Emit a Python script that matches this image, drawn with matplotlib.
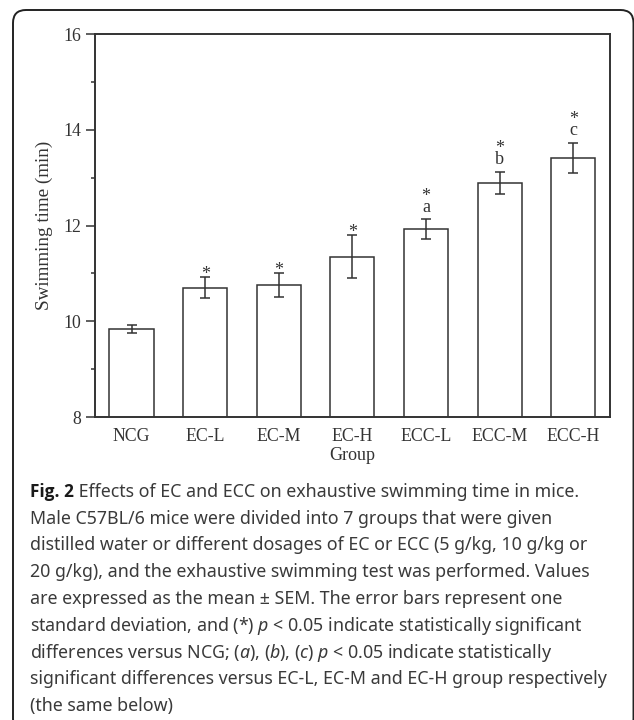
import numpy as np
import matplotlib
matplotlib.use('Agg')
import matplotlib.pyplot as plt
from matplotlib.patches import FancyBboxPatch
from matplotlib.transforms import IdentityTransform
from matplotlib.ticker import MultipleLocator

groups = ['NCG', 'EC-L', 'EC-M', 'EC-H', 'ECC-L', 'ECC-M', 'ECC-H']
means = [9.84, 10.70, 10.76, 11.35, 11.93, 12.90, 13.41]
errs = [0.08, 0.22, 0.25, 0.45, 0.20, 0.23, 0.32]
stars = [False, True, True, True, True, True, True]
letters = ['', '', '', '', 'a', 'b', 'c']

fig_label = 'Fig. 2'
caption = [
    ' Effects of EC and ECC on exhaustive swimming time in mice.',
    'Male C57BL/6 mice were divided into 7 groups that were given',
    'distilled water or different dosages of EC or ECC (5 g/kg, 10 g/kg or',
    '20 g/kg), and the exhaustive swimming test was performed. Values',
    'are expressed as the mean ± SEM. The error bars represent one',
    r'standard deviation, and (*) $p$ < 0.05 indicate statistically significant',
    r'differences versus NCG; ($a$), ($b$), ($c$) $p$ < 0.05 indicate statistically',
    'significant differences versus EC-L, EC-M and EC-H group respectively',
    '(the same below)',
]

plt.rcParams['mathtext.fontset'] = 'custom'
plt.rcParams['mathtext.rm'] = 'Noto Sans'
plt.rcParams['mathtext.it'] = 'Noto Sans:italic'

dark = '#333333'
serif = 'Liberation Serif'
capsize = 12.8

fig = plt.figure(figsize=(6.34, 7.2), dpi=100)

# rounded frame around figure + caption
frame = FancyBboxPatch((13, -12), 620.5, 722, boxstyle='round,pad=0,rounding_size=13',
                       transform=IdentityTransform(), fill=False, lw=1.4, ec='#222222')
fig.patches.append(frame)

ax = fig.add_axes([0.1494, 0.4208, 0.8128, 0.5316])
x = np.arange(len(groups))
ax.bar(x, means, width=0.6, color='white', edgecolor=dark, linewidth=1.1, zorder=2)
ax.errorbar(x, means, yerr=errs, fmt='none', ecolor=dark, elinewidth=1.1,
            capsize=3.3, capthick=1.1, zorder=3)

for i in range(len(groups)):
    top = means[i] + errs[i]
    if letters[i]:
        # star stacked over the letter, one text object
        ax.annotate('*\n' + letters[i], xy=(i, top), xytext=(0, 5.5), textcoords='offset points',
                    ha='center', va='baseline', multialignment='center', linespacing=0.55,
                    fontsize=13, family=serif, color=dark)
    elif stars[i]:
        ax.annotate('*', xy=(i, top), xytext=(0, -1.4), textcoords='offset points',
                    ha='center', va='baseline', fontsize=13, family=serif, color=dark)

ax.set_xlim(-0.5, 6.5)
ax.set_ylim(8, 16)
ax.yaxis.set_major_locator(MultipleLocator(2))
ax.yaxis.set_minor_locator(MultipleLocator(1))
ax.set_xticks(x)
ax.set_xticklabels(groups, family=serif, fontsize=12.8, color=dark)
ax.tick_params(axis='x', length=0, pad=8)
ax.tick_params(axis='y', which='major', direction='out', length=6.3, width=1.1,
               color=dark, labelcolor=dark, pad=3.5, labelsize=12.8)
ax.tick_params(axis='y', which='minor', direction='out', length=3, width=1.1, color=dark)
for lab in ax.get_yticklabels():
    lab.set_family(serif)
for s in ax.spines.values():
    s.set_linewidth(1.4)
    s.set_color(dark)

ax.set_xlabel('Group', family=serif, fontsize=13, color=dark)
ax.xaxis.set_label_coords(0.5, -0.0993)
ax.xaxis.label.set_va('center')
ax.set_ylabel('Swimming time (min)', family=serif, fontsize=13.8, color=dark)
ax.yaxis.set_label_coords(-0.0974, 0.5)
ax.yaxis.label.set_va('center')

# caption
y0 = 496.7
x0 = 30 / 634
bold = fig.text(x0, 1 - y0 / 720, fig_label, family=['Open Sans', 'DejaVu Sans'], weight='bold',
                fontsize=capsize - 0.4, color='#1a1a1a', ha='left', va='baseline')
fig.canvas.draw()
bb = bold.get_window_extent()
for k, line in enumerate(caption):
    xs = bb.x1 / 634 if k == 0 else x0
    fig.text(xs, 1 - (y0 + 26.8 * k) / 720, line, family='Noto Sans',
             fontsize=capsize, color='#3a3a3a', ha='left', va='baseline')

fig.savefig('out.png', dpi=100)
